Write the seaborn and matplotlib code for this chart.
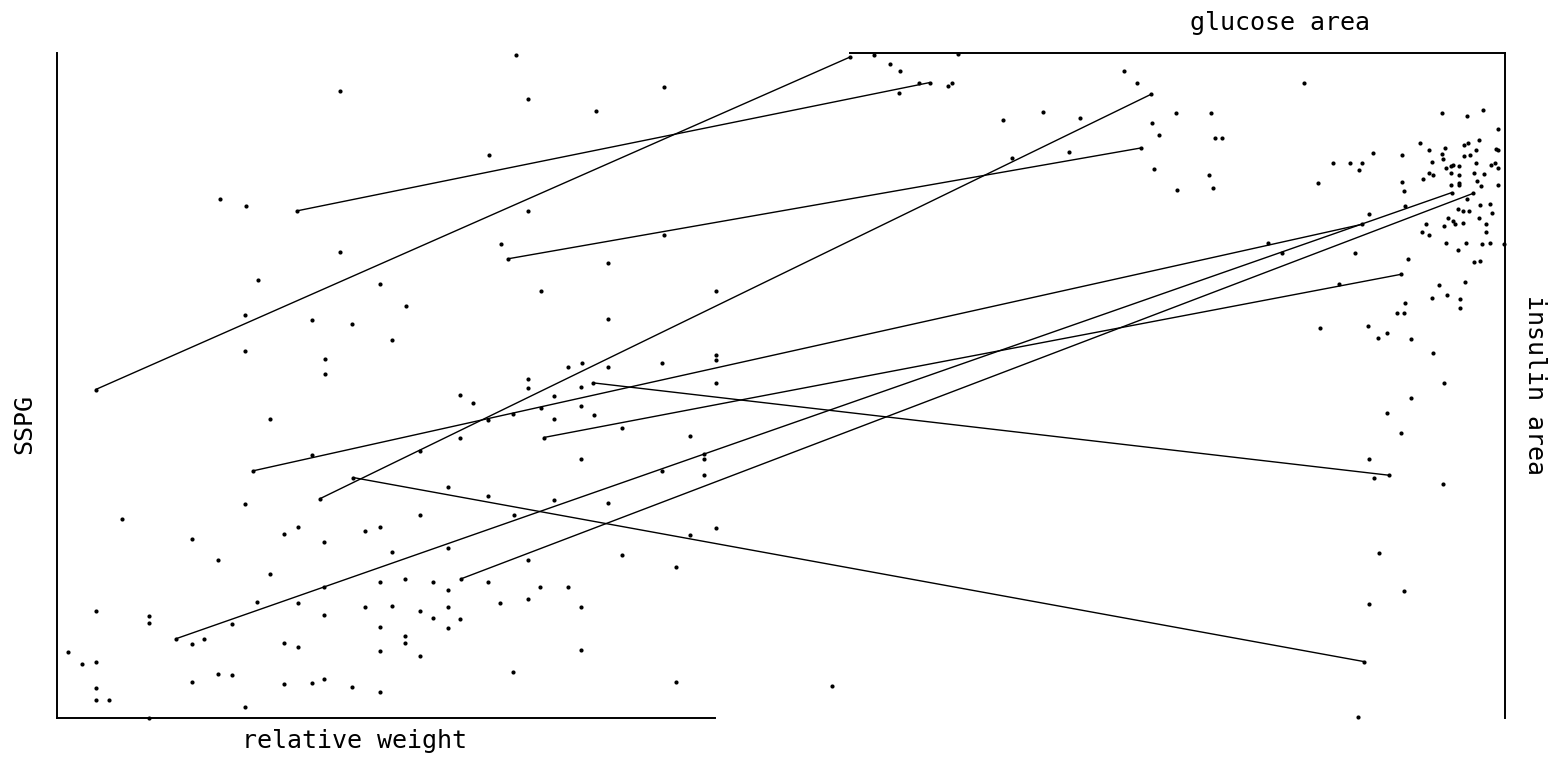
import matplotlib
matplotlib.use("Agg")
import matplotlib.pyplot as plt
from matplotlib.patches import ConnectionPatch
import numpy as np
import pandas as pd
import seaborn as sns

# ---- left panel: relative weight vs SSPG ----
relative_weight = [
    1.044, 0.912, 1.024, 0.822, 0.842, 1.033, 0.912, 0.851, 0.942, 0.962,
    0.841, 0.891, 0.921, 0.951, 0.841, 0.901, 0.901, 1.053, 1.155, 1.104,
    1.053, 1.155, 1.113, 1.063, 1.194, 1.113, 1.083, 1.094, 1.113, 1.154,
    1.194, 1.194, 1.053, 0.860, 1.002, 1.012, 1.023, 1.042, 0.891, 0.972,
    1.002, 0.993, 1.023, 1.043, 0.841, 0.749, 0.972, 0.801, 0.821, 0.870,
    0.881, 0.900, 0.931, 0.942, 0.951, 0.993, 0.860, 0.942, 0.961, 0.982,
    0.993, 1.023, 0.900, 0.850, 0.881, 0.931, 0.951, 0.972, 0.982, 0.993,
    1.002, 0.993, 1.032, 0.900, 0.729, 0.769, 0.769, 0.831, 0.942, 0.708,
    0.719, 0.729, 0.801, 0.810, 0.870, 0.881, 0.961, 0.961, 0.942, 0.972,
    0.729, 0.729, 0.739, 0.801, 0.821, 0.831, 0.870, 0.891, 0.900, 0.921,
    0.942, 1.042, 0.841, 0.769, 1.053, 1.093, 1.194, 1.073, 1.093, 1.063,
    1.073, 1.103, 1.124, 1.175, 1.093, 1.185, 1.185, 1.154, 1.185, 1.073,
    1.113, 1.175, 1.194, 1.124, 1.164, 1.053, 1.062, 1.083, 1.053, 1.093,
    1.093, 1.164,
]
sspg = [
    497, 470, 422, 389, 384, 355, 349, 328, 325, 309,
    302, 298, 295, 283, 275, 269, 258, 464, 473, 455,
    380, 362, 341, 320, 320, 299, 263, 266, 263, 266,
    272, 268, 254, 224, 242, 236, 223, 228, 197, 200,
    210, 173, 166, 152, 160, 149, 152, 134, 118, 138,
    143, 132, 140, 143, 124, 127, 108, 102, 104, 102,
    96, 102, 98, 87, 86, 83, 84, 80, 75, 83,
    74, 67, 86, 77, 80, 76, 71, 70, 68, 49,
    40, 42, 55, 59, 56, 53, 61, 56, 50, 46,
    22, 13, 13, 27, 33, 32, 25, 26, 29, 23,
    19, 34, 8, 0, 247, 248, 251, 241, 234, 232,
    224, 227, 217, 211, 194, 198, 194, 185, 182, 163,
    161, 137, 142, 122, 113, 118, 98, 98, 89, 83,
    51, 27,
]

# ---- right panel: glucose area vs insulin area (both axes reversed) ----
glucose_area = [
    1552, 1520, 1500, 1462, 1502, 1404, 1396, 1384, 1294, 1276,
    1052, 1026, 692, 1214, 1140, 1162, 996, 982, 948, 878,
    992, 946, 882, 874, 870, 856, 664, 634, 600, 582,
    576, 554, 496, 496, 590, 764, 736, 622, 660, 564,
    544, 526, 478, 434, 490, 506, 492, 436, 422, 406,
    380, 380, 370, 416, 334, 366, 304, 460, 442, 436,
    410, 416, 414, 408, 398, 394, 398, 382, 372, 360,
    372, 364, 348, 342, 308, 304, 348, 318, 310, 304,
    352, 332, 442, 434, 454, 382, 382, 382, 492, 398,
    346, 338, 304, 366, 490, 384, 374, 362, 340, 320,
    316, 404, 342, 394, 390, 374, 328, 328, 448, 412,
    456, 442, 408, 368, 384, 336, 320, 292, 484, 352,
    340, 562, 412, 478, 526, 498, 562, 552, 414, 542,
    492, 562, 584, 1636,
]
insulin_area = [
    3, 13, 20, 33, 45, 37, 34, 2, 74, 116,
    20, 33, 34, 65, 72, 109, 78, 91, 67, 66,
    128, 151, 135, 149, 94, 94, 144, 122, 122, 129,
    121, 110, 113, 142, 221, 209, 221, 255, 303, 301,
    314, 309, 315, 331, 275, 286, 286, 270, 256, 267,
    271, 281, 252, 66, 63, 70, 84, 99, 107, 120,
    105, 112, 117, 127, 125, 124, 132, 125, 114, 113,
    102, 99, 107, 96, 106, 107, 121, 124, 121, 127,
    133, 134, 133, 135, 139, 135, 143, 146, 152, 146,
    141, 147, 146, 161, 169, 172, 174, 174, 168, 167,
    176, 182, 182, 185, 189, 188, 189, 197, 189, 191,
    197, 201, 210, 210, 217, 211, 209, 211, 227, 230,
    229, 178, 363, 380, 396, 419, 447, 468, 475, 550,
    592, 607, 731, 697,
]

link_relative_weight = [0.729, 0.880, 1.038, 0.897, 0.847, 1.065, 0.789, 1.003, 1.102, 0.922]
link_sspg = [246, 380, 344, 164, 185, 210, 59, 104, 251, 180]
link_glucose_area = [1600, 1440, 1018, 998, 576, 498, 396, 354, 522, 572]
link_insulin_area = [5, 33, 105, 46, 189, 244, 154, 155, 465, 670]

sns.set_style("white")
plt.rcParams["font.family"] = ["DejaVu Sans Mono", "DejaVu Sans"]

W, H = 1556, 765
fig = plt.figure(figsize=(W / 100, H / 100), dpi=100)
fig.patch.set_facecolor("white")

ax_left = fig.add_axes([57 / W, 47.5 / H, 658 / W, 664.5 / H])
ax_right = fig.add_axes([850 / W, 47.5 / H, 655 / W, 665 / H])

left_df = pd.DataFrame({
    "relative weight": relative_weight + link_relative_weight,
    "SSPG": sspg + link_sspg,
})
right_df = pd.DataFrame({
    "glucose area": glucose_area + link_glucose_area,
    "insulin area": insulin_area + link_insulin_area,
})

dot_kw = dict(color="black", s=9, linewidth=0, clip_on=False, legend=False)
sns.scatterplot(data=left_df, x="relative weight", y="SSPG", ax=ax_left, **dot_kw)
sns.scatterplot(data=right_df, x="glucose area", y="insulin area", ax=ax_right, **dot_kw)

ax_left.set_xlim(0.70, 1.1935)
ax_left.set_ylim(0, 498.4)
ax_right.set_xlim(1600, 290)
ax_right.set_ylim(731.5, 0)

for ax, shown in ((ax_left, ("left", "bottom")), (ax_right, ("top", "right"))):
    ax.set_facecolor("none")
    ax.set_xticks([])
    ax.set_yticks([])
    ax.set_xlabel("")
    ax.set_ylabel("")
    for name, spine in ax.spines.items():
        spine.set_visible(name in shown)
        spine.set_linewidth(1.4)
        spine.set_color("black")

# connect each linked patient's two positions
for rw, sp, ga, ia in zip(link_relative_weight, link_sspg, link_glucose_area, link_insulin_area):
    con = ConnectionPatch(xyA=(rw, sp), coordsA=ax_left.transData,
                          xyB=(ga, ia), coordsB=ax_right.transData,
                          color="black", linewidth=1.0)
    fig.add_artist(con)

txt = dict(fontsize=18, color="black", ha="center", va="center")
fig.text(354 / W, 1 - 741 / H, "relative weight", **txt)
fig.text(24 / W, 1 - 424 / H, "SSPG", rotation=90, **txt)
fig.text(1280 / W, 1 - 23 / H, "glucose area", **txt)
fig.text(1535 / W, 1 - 385 / H, "insulin area", rotation=-90, **txt)

fig.savefig("out.png", dpi=100, facecolor="white")
